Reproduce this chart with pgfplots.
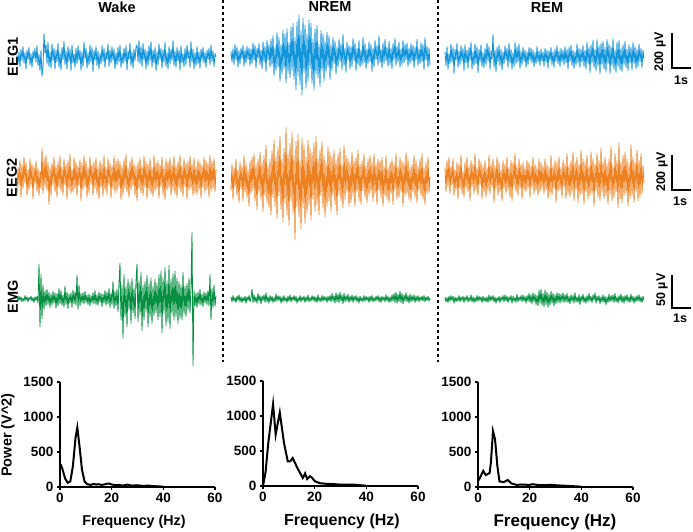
\documentclass[border=0pt]{standalone}
\usepackage{pgfplots}
\pgfplotsset{compat=1.18}
\usepackage{fontspec}
\setmainfont{Liberation Sans}
\definecolor{eegblue}{RGB}{20,150,220}
\definecolor{eegorange}{RGB}{238,130,35}
\definecolor{emggreen}{RGB}{5,145,65}
\newcommand{\trace}[5]{%
\begin{axis}[at={(#1pt,#2pt)}, anchor=west, scale only axis, width=200pt, height=140pt,
  xmin=0, xmax=10, ymin=-#3, ymax=#3, hide axis, clip=false]
\addplot[#4, line width=0.85pt, line join=round, mark=none] table[x expr=\coordindex*0.05, y index=0, header=false, row sep=\\] {#5};
\end{axis}}
\pgfplotsset{spec/.style={scale only axis, width=155pt, height=105pt, anchor=south west,
  xmin=0, xmax=60, ymin=0, ymax=1500, axis lines*=left, enlargelimits=false,
  xtick={0,20,40,60}, ytick={0,500,1000,1500}, tick align=outside,
  axis line style={line width=1.4pt, black}, major tick style={line width=1.2pt, black},
  major tick length=3pt, clip=false,
  /pgf/number format/1000 sep={}, /pgf/number format/assume math mode=true,
  ticklabel style={font=\fontsize{13.5}{15}\selectfont\bfseries}}}
\begin{document}
\begin{tikzpicture}
\path[use as bounding box] (0pt,0pt) rectangle (693pt,532pt);
% ---- EEG1 ----
\trace{17}{475}{400}{eegblue}{10\\ -40\\ 30\\ -55\\ 45\\ -20\\ 60\\ -35\\ 25\\ -70\\ 40\\ -15\\ 55\\ -45\\ 20\\ -60\\ 35\\ -10\\ 50\\ -30\\
65\\ -50\\ 15\\ -80\\ 40\\ -110\\ -60\\ 135\\ 20\\ 70\\ -40\\ 85\\ -55\\ 30\\ -65\\ 75\\ -20\\ 50\\ -70\\ 40\\
-30\\ 80\\ -60\\ 25\\ -75\\ 55\\ -15\\ 90\\ -45\\ 35\\ -70\\ 60\\ -25\\ 45\\ -80\\ 70\\ -35\\ 20\\ -60\\ 50\\
-40\\ 65\\ -20\\ 40\\ -75\\ 30\\ -55\\ 85\\ -10\\ 50\\ -65\\ 25\\ -45\\ 70\\ -30\\ 55\\ -85\\ 40\\ -20\\ 60\\
-50\\ 35\\ -70\\ 20\\ -40\\ 65\\ -25\\ 50\\ -60\\ 30\\ -15\\ 75\\ -55\\ 40\\ -35\\ 60\\ -20\\ 45\\ -70\\ 25\\
-45\\ 55\\ -30\\ 70\\ -60\\ 20\\ -40\\ 50\\ -25\\ 65\\ -75\\ 35\\ -15\\ 80\\ -50\\ 30\\ -65\\ 45\\ -20\\ 55\\
70\\ -30\\ 95\\ -40\\ 60\\ -55\\ 80\\ -20\\ 45\\ -70\\ 35\\ -50\\ 65\\ -25\\ 90\\ -60\\ 40\\ -35\\ 55\\ -80\\
30\\ -45\\ 75\\ -15\\ 50\\ -65\\ 40\\ -30\\ 85\\ -55\\ 25\\ -70\\ 60\\ -40\\ 45\\ -20\\ 95\\ -50\\ 35\\ -60\\
55\\ -25\\ 40\\ -75\\ 65\\ -35\\ 20\\ -55\\ 50\\ -45\\ 70\\ -10\\ 35\\ -60\\ 90\\ -30\\ 45\\ -70\\ 25\\ -50\\
60\\ -40\\ 30\\ -65\\ 45\\ -20\\ 55\\ -35\\ 25\\ -60\\ 40\\ -15\\ 50\\ -45\\ 70\\ -25\\ 35\\ -55\\ 20\\ 0\\}
\trace{231}{477}{400}{eegblue}{20\\ -40\\ 35\\ -55\\ 60\\ -30\\ 45\\ -70\\ 25\\ -50\\ 40\\ -20\\ 55\\ -65\\ 30\\ -45\\ 50\\ -25\\ 40\\ -60\\
35\\ -50\\ 70\\ -30\\ 55\\ -75\\ 40\\ -20\\ 65\\ -55\\ 30\\ -80\\ 75\\ -40\\ 50\\ -95\\ 85\\ -30\\ 60\\ -70\\
90\\ -60\\ 110\\ -120\\ 45\\ -90\\ 130\\ -70\\ 100\\ -150\\ 60\\ -110\\ 140\\ -80\\ 120\\ -160\\ 150\\ -100\\ 70\\ -130\\
160\\ -90\\ 180\\ -140\\ 100\\ -200\\ 190\\ -120\\ 230\\ -170\\ 140\\ -230\\ 210\\ -100\\ 170\\ -190\\ 120\\ -150\\ 200\\ -80\\
180\\ -160\\ 90\\ -200\\ 150\\ -110\\ 170\\ -130\\ 60\\ -180\\ 140\\ -90\\ 120\\ -150\\ 80\\ -100\\ 130\\ -70\\ 110\\ -140\\
60\\ -90\\ 100\\ -50\\ 80\\ -110\\ 45\\ -70\\ 90\\ -40\\ 65\\ -85\\ 120\\ -60\\ 40\\ -100\\ 75\\ -30\\ 55\\ -80\\
50\\ -65\\ 95\\ -35\\ 70\\ -90\\ 40\\ -55\\ 85\\ -70\\ 30\\ -60\\ 100\\ -45\\ 65\\ -80\\ 35\\ -50\\ 75\\ -40\\
60\\ -95\\ 40\\ -70\\ 85\\ -30\\ 55\\ -60\\ 110\\ -45\\ 35\\ -75\\ 70\\ -50\\ 90\\ -35\\ 45\\ -65\\ 80\\ -55\\
40\\ -80\\ 65\\ -30\\ 95\\ -60\\ 50\\ -40\\ 75\\ -70\\ 35\\ -55\\ 85\\ -45\\ 60\\ -30\\ 70\\ -65\\ 40\\ -50\\
65\\ -35\\ 55\\ -75\\ 45\\ -30\\ 90\\ -60\\ 35\\ -50\\ 70\\ -40\\ 60\\ -85\\ 100\\ -30\\ 50\\ -70\\ 40\\ -60\\}
\trace{445}{475}{400}{eegblue}{30\\ -50\\ 60\\ -70\\ 20\\ -40\\ 75\\ -30\\ 55\\ -95\\ 45\\ -20\\ 80\\ -60\\ 35\\ -45\\ 65\\ -25\\ 50\\ -80\\
70\\ -35\\ 40\\ -65\\ 55\\ -20\\ 85\\ -70\\ 30\\ -50\\ 75\\ -40\\ 60\\ -90\\ 45\\ -30\\ 70\\ -55\\ 25\\ -60\\
50\\ -45\\ 80\\ -25\\ 60\\ -70\\ 35\\ -15\\ 130\\ -60\\ 40\\ -85\\ 55\\ -30\\ 70\\ -50\\ 45\\ -75\\ 30\\ -40\\
65\\ -20\\ 50\\ -60\\ 80\\ -35\\ 45\\ -70\\ 25\\ -55\\ 85\\ -40\\ 60\\ -30\\ 75\\ -65\\ 35\\ -45\\ 55\\ -25\\
40\\ -60\\ 30\\ -45\\ 55\\ -20\\ 50\\ -35\\ 40\\ -55\\ 25\\ -40\\ 60\\ -30\\ 35\\ -50\\ 45\\ -25\\ 30\\ -55\\
50\\ -30\\ 40\\ -65\\ 35\\ -20\\ 55\\ -45\\ 30\\ -60\\ 45\\ -25\\ 65\\ -40\\ 35\\ -55\\ 50\\ -30\\ 40\\ -45\\
60\\ -35\\ 45\\ -70\\ 55\\ -25\\ 70\\ -50\\ 40\\ -65\\ 30\\ -45\\ 75\\ -35\\ 50\\ -60\\ 45\\ -30\\ 65\\ -55\\
40\\ -70\\ 85\\ -40\\ 55\\ -90\\ 70\\ -35\\ 95\\ -60\\ 45\\ -80\\ 100\\ -50\\ 65\\ -95\\ 80\\ -45\\ 90\\ -70\\
55\\ -85\\ 100\\ -40\\ 75\\ -95\\ 60\\ -50\\ 105\\ -70\\ 40\\ -90\\ 85\\ -55\\ 95\\ -75\\ 50\\ -85\\ 70\\ -45\\
90\\ -60\\ 45\\ -80\\ 70\\ -35\\ 55\\ -75\\ 85\\ -40\\ 60\\ -70\\ 45\\ -55\\ 75\\ -30\\ 50\\ -60\\ 40\\ -10\\}
% ---- EEG2 ----
\trace{17}{354}{400}{eegorange}{-90\\ 60\\ -40\\ 100\\ -110\\ 75\\ -60\\ 120\\ -30\\ 90\\ -100\\ 50\\ -70\\ 110\\ -45\\ 80\\ -120\\ 65\\ -35\\ 95\\
-80\\ 55\\ -100\\ 40\\ -60\\ 170\\ -90\\ 110\\ -50\\ 130\\ -70\\ 90\\ -150\\ 60\\ -100\\ 85\\ -40\\ 120\\ -80\\ 70\\
-110\\ 95\\ -55\\ 125\\ -75\\ 60\\ -95\\ 110\\ -40\\ 80\\ -120\\ 100\\ -65\\ 135\\ -90\\ 50\\ -80\\ 115\\ -60\\ 90\\
-100\\ 70\\ -45\\ 105\\ -130\\ 85\\ -70\\ 125\\ -50\\ 95\\ -110\\ 60\\ -85\\ 120\\ -35\\ 75\\ -100\\ 90\\ -60\\ 115\\
-90\\ 65\\ -120\\ 100\\ -55\\ 80\\ -105\\ 130\\ -70\\ 60\\ -95\\ 110\\ -40\\ 85\\ -115\\ 70\\ -60\\ 125\\ -85\\ 95\\
-75\\ 110\\ -50\\ 90\\ -125\\ 70\\ -95\\ 105\\ -60\\ 135\\ -80\\ 55\\ -110\\ 95\\ -70\\ 120\\ -45\\ 80\\ -100\\ 65\\
-130\\ 90\\ -60\\ 115\\ -85\\ 70\\ -100\\ 125\\ -55\\ 95\\ -120\\ 80\\ -70\\ 110\\ -90\\ 60\\ -105\\ 130\\ -75\\ 85\\
-60\\ 100\\ -115\\ 75\\ -50\\ 120\\ -95\\ 65\\ -125\\ 105\\ -70\\ 90\\ -55\\ 115\\ -100\\ 80\\ -65\\ 125\\ -90\\ 70\\
-110\\ 95\\ -60\\ 130\\ -80\\ 70\\ -105\\ 110\\ -50\\ 85\\ -120\\ 95\\ -70\\ 125\\ -60\\ 80\\ -100\\ 115\\ -85\\ 65\\
-95\\ 105\\ -70\\ 90\\ -115\\ 75\\ -55\\ 120\\ -85\\ 100\\ -65\\ 85\\ -110\\ 130\\ -75\\ 95\\ -60\\ 110\\ -80\\ 50\\}
\trace{231}{352}{400}{eegorange}{-60\\ 90\\ -110\\ 70\\ -40\\ 120\\ -90\\ 60\\ -130\\ 100\\ -50\\ 80\\ -120\\ 140\\ -70\\ 95\\ -100\\ 60\\ -150\\ 110\\
-80\\ 130\\ -60\\ 150\\ -120\\ 90\\ -170\\ 120\\ -70\\ 160\\ -110\\ 100\\ -180\\ 140\\ -90\\ 200\\ -130\\ 80\\ -160\\ 120\\
-200\\ 170\\ -100\\ 230\\ -150\\ 130\\ -220\\ 190\\ -90\\ 250\\ -170\\ 120\\ -240\\ 180\\ -130\\ 300\\ -200\\ 150\\ -260\\ 210\\
-120\\ 270\\ -190\\ 140\\ -340\\ 220\\ -150\\ 260\\ -210\\ 110\\ -280\\ 240\\ -160\\ 200\\ -250\\ 130\\ -190\\ 230\\ -140\\ 180\\
-230\\ 160\\ -110\\ 210\\ -180\\ 250\\ -140\\ 120\\ -200\\ 170\\ -90\\ 220\\ -160\\ 140\\ -210\\ 100\\ -150\\ 190\\ -120\\ 160\\
-180\\ 130\\ -90\\ 170\\ -140\\ 110\\ -200\\ 150\\ -80\\ 180\\ -120\\ 90\\ -160\\ 200\\ -110\\ 140\\ -70\\ 120\\ -150\\ 100\\
-130\\ 160\\ -90\\ 110\\ -150\\ 130\\ -70\\ 170\\ -120\\ 90\\ -140\\ 110\\ -60\\ 150\\ -100\\ 80\\ -130\\ 120\\ -90\\ 140\\
-70\\ 100\\ -120\\ 150\\ -80\\ 90\\ -140\\ 120\\ -60\\ 110\\ -100\\ 130\\ -150\\ 80\\ -90\\ 140\\ -110\\ 70\\ -130\\ 100\\
-80\\ 120\\ -140\\ 90\\ -60\\ 150\\ -110\\ 80\\ -100\\ 130\\ -70\\ 110\\ -150\\ 100\\ -90\\ 160\\ -80\\ 120\\ -110\\ 70\\
-120\\ 90\\ -70\\ 140\\ -100\\ 110\\ -130\\ 80\\ -60\\ 120\\ -90\\ 150\\ -110\\ 70\\ -140\\ 100\\ -80\\ 130\\ -70\\ 20\\}
\trace{445}{354}{400}{eegorange}{60\\ -80\\ 100\\ -50\\ 120\\ -90\\ 70\\ -40\\ 110\\ -100\\ 50\\ -70\\ 90\\ -120\\ 80\\ -60\\ 130\\ -90\\ 40\\ -110\\
90\\ -60\\ 120\\ -80\\ 70\\ -130\\ 100\\ -50\\ 80\\ -90\\ 140\\ -70\\ 60\\ -100\\ 110\\ -40\\ 90\\ -120\\ 70\\ -80\\
100\\ -110\\ 60\\ -70\\ 130\\ -90\\ 80\\ -50\\ 110\\ -140\\ 70\\ -60\\ 120\\ -100\\ 90\\ -80\\ 50\\ -130\\ 100\\ -60\\
80\\ -90\\ 120\\ -70\\ 60\\ -110\\ 100\\ -130\\ 90\\ -50\\ 140\\ -80\\ 70\\ -100\\ 110\\ -60\\ 80\\ -120\\ 90\\ -70\\
60\\ -80\\ 100\\ -60\\ 90\\ -110\\ 70\\ -50\\ 120\\ -90\\ 80\\ -70\\ 60\\ -100\\ 110\\ -80\\ 90\\ -60\\ 70\\ -90\\
110\\ -70\\ 80\\ -120\\ 60\\ -90\\ 130\\ -100\\ 70\\ -60\\ 100\\ -140\\ 90\\ -80\\ 120\\ -70\\ 60\\ -110\\ 100\\ -50\\
80\\ -120\\ 140\\ -90\\ 70\\ -110\\ 100\\ -80\\ 150\\ -130\\ 90\\ -70\\ 120\\ -140\\ 80\\ -100\\ 160\\ -90\\ 110\\ -150\\
90\\ -80\\ 130\\ -120\\ 70\\ -100\\ 150\\ -90\\ 110\\ -160\\ 80\\ -70\\ 140\\ -110\\ 100\\ -130\\ 170\\ -80\\ 90\\ -120\\
120\\ -100\\ 80\\ -150\\ 110\\ -90\\ 180\\ -130\\ 70\\ -110\\ 140\\ -80\\ 100\\ -170\\ 200\\ -120\\ 90\\ -140\\ 130\\ -100\\
150\\ -90\\ 110\\ -160\\ 80\\ -120\\ 190\\ -100\\ 120\\ -140\\ 90\\ -80\\ 160\\ -130\\ 100\\ -110\\ 140\\ -90\\ 70\\ -30\\}
% ---- EMG ----
\trace{17}{233}{100}{emggreen}{2\\ -3\\ 4\\ -2\\ 3\\ -4\\ 1\\ -3\\ 5\\ -2\\ 3\\ -4\\ 2\\ -1\\ 4\\ -3\\ 2\\ -5\\ 3\\ -2\\
4\\ -6\\ 50\\ -40\\ 35\\ -28\\ 20\\ -15\\ 12\\ -10\\ 14\\ -8\\ 10\\ -12\\ 7\\ -9\\ 11\\ -6\\ 9\\ -13\\
8\\ -10\\ 15\\ -7\\ 12\\ -9\\ 6\\ -11\\ 18\\ -8\\ 10\\ -14\\ 7\\ -6\\ 9\\ -12\\ 13\\ -7\\ 10\\ -9\\
34\\ -15\\ 20\\ -10\\ 8\\ -6\\ 9\\ -7\\ 11\\ -5\\ 6\\ -8\\ 7\\ -10\\ 5\\ -6\\ 9\\ -7\\ 12\\ -8\\
6\\ -9\\ 10\\ -5\\ 8\\ -11\\ 7\\ -6\\ 12\\ -9\\ 10\\ -7\\ 15\\ -12\\ 9\\ -8\\ 25\\ -14\\ 11\\ -10\\
14\\ -18\\ 22\\ 51\\ -30\\ 20\\ -56\\ 35\\ -25\\ 18\\ -40\\ 28\\ -15\\ 22\\ -35\\ 30\\ -20\\ 16\\ -28\\ 24\\
50\\ -32\\ 26\\ -22\\ 38\\ -45\\ 20\\ -30\\ 25\\ -18\\ 34\\ -40\\ 22\\ -26\\ 30\\ -35\\ 18\\ -24\\ 28\\ -20\\
22\\ -30\\ 35\\ -25\\ 40\\ -48\\ 30\\ -20\\ 45\\ -38\\ 26\\ -32\\ 48\\ -42\\ 28\\ -22\\ 36\\ -30\\ 40\\ -25\\
30\\ -35\\ 25\\ -28\\ 20\\ -30\\ 38\\ -22\\ 18\\ -25\\ 22\\ -16\\ 30\\ -20\\ 15\\ 95\\ -95\\ 12\\ -10\\ 8\\
-12\\ 10\\ -8\\ 14\\ -9\\ 7\\ -11\\ 10\\ -6\\ 9\\ -8\\ 12\\ -10\\ 35\\ -30\\ 15\\ -12\\ 20\\ -10\\ 5\\}
\trace{231}{233}{100}{emggreen}{3\\ -4\\ 5\\ -3\\ 2\\ -5\\ 4\\ -2\\ 6\\ -4\\ 3\\ -5\\ 2\\ -3\\ 4\\ -6\\ 3\\ -2\\ 5\\ -4\\
2\\ 14\\ -5\\ 6\\ -4\\ 3\\ -6\\ 8\\ -3\\ 5\\ -7\\ 4\\ -2\\ 6\\ -5\\ 9\\ -4\\ 3\\ -6\\ 5\\
-3\\ 4\\ -5\\ 2\\ -4\\ 7\\ -3\\ 5\\ -2\\ 4\\ -6\\ 3\\ -4\\ 5\\ -3\\ 2\\ -5\\ 4\\ -3\\ 6\\
-4\\ 3\\ -2\\ 5\\ -3\\ 4\\ -6\\ 2\\ -3\\ 5\\ -4\\ 3\\ -2\\ 4\\ -5\\ 3\\ -3\\ 6\\ -4\\ 2\\
-3\\ 5\\ -2\\ 4\\ -4\\ 3\\ -5\\ 6\\ -3\\ 2\\ -4\\ 5\\ -3\\ 4\\ -2\\ 3\\ -5\\ 4\\ -3\\ 5\\
-4\\ 8\\ -3\\ 5\\ -6\\ 9\\ -4\\ 7\\ -5\\ 10\\ -3\\ 6\\ -7\\ 8\\ -4\\ 5\\ -3\\ 7\\ -5\\ 4\\
-3\\ 6\\ -5\\ 4\\ -2\\ 5\\ -4\\ 3\\ -6\\ 4\\ -3\\ 2\\ -4\\ 5\\ -3\\ 4\\ -2\\ 3\\ -5\\ 4\\
-3\\ 5\\ -4\\ 2\\ -3\\ 4\\ -2\\ 5\\ -4\\ 3\\ -5\\ 4\\ -2\\ 3\\ -4\\ 6\\ -3\\ 4\\ -5\\ 3\\
-4\\ 6\\ -3\\ 8\\ -5\\ 10\\ -6\\ 7\\ -4\\ 11\\ -5\\ 8\\ -7\\ 6\\ -3\\ 9\\ -4\\ 5\\ -6\\ 7\\
-4\\ 5\\ -3\\ 6\\ -5\\ 4\\ -3\\ 5\\ -4\\ 3\\ -2\\ 4\\ -3\\ 5\\ -4\\ 3\\ -2\\ 4\\ -3\\ 2\\}
\trace{445}{233}{100}{emggreen}{3\\ -4\\ 2\\ -5\\ 4\\ -3\\ 5\\ -2\\ 4\\ -6\\ 3\\ -4\\ 2\\ -3\\ 5\\ -4\\ 3\\ -2\\ 4\\ -5\\
3\\ -2\\ 5\\ -4\\ 2\\ -3\\ 6\\ -4\\ 3\\ -5\\ 2\\ -4\\ 5\\ -3\\ 4\\ -2\\ 3\\ -5\\ 4\\ -3\\
2\\ -4\\ 3\\ -5\\ 6\\ -3\\ 4\\ -2\\ 5\\ -4\\ 3\\ -6\\ 2\\ -3\\ 4\\ -5\\ 3\\ -2\\ 5\\ -4\\
6\\ -3\\ 4\\ -5\\ 3\\ -2\\ 5\\ -6\\ 4\\ -3\\ 2\\ -5\\ 7\\ -4\\ 3\\ -2\\ 5\\ -4\\ 6\\ -3\\
4\\ -6\\ 5\\ -3\\ 8\\ -5\\ 6\\ -7\\ 9\\ -4\\ 7\\ -8\\ 5\\ -10\\ 12\\ -6\\ 14\\ -9\\ 8\\ -11\\
13\\ -8\\ 10\\ -12\\ 7\\ -9\\ 11\\ -6\\ 8\\ -10\\ 6\\ -7\\ 9\\ -5\\ 8\\ -6\\ 7\\ -4\\ 9\\ -5\\
6\\ -4\\ 8\\ -5\\ 4\\ -7\\ 6\\ -3\\ 5\\ -6\\ 9\\ -4\\ 3\\ -5\\ 6\\ -8\\ 4\\ -3\\ 7\\ -5\\
3\\ -6\\ 5\\ -4\\ 8\\ -3\\ 4\\ -5\\ 6\\ -2\\ 9\\ -6\\ 4\\ -3\\ 5\\ -7\\ 3\\ -4\\ 6\\ -5\\
4\\ -8\\ 3\\ -5\\ 7\\ -4\\ 5\\ -3\\ 6\\ -5\\ 8\\ -4\\ 3\\ -6\\ 5\\ -3\\ 7\\ -5\\ 4\\ -6\\
5\\ -3\\ 6\\ -4\\ 3\\ -5\\ 7\\ -3\\ 4\\ -6\\ 3\\ -4\\ 5\\ -3\\ 6\\ -4\\ 3\\ -5\\ 4\\ -2\\}
% ---- spectra ----
\begin{axis}[spec, at={(60pt,45pt)}]
\addplot[black, line width=2pt, mark=none] coordinates {(0,270)(0.5,300)(1,250)(2,120)(3,60)(4,80)(5,300)(6,700)(6.7,850)(7.5,600)(8.5,250)(9.5,80)(10.5,40)(12,30)(13,45)(14,35)(15,40)(16,30)(17,35)(18,45)(19,50)(20,35)(21,30)(22,25)(23,30)(24,20)(25,25)(26,35)(27,25)(28,20)(30,25)(32,15)(34,20)(36,12)(38,10)(40,5)};
\end{axis}
\begin{axis}[spec, at={(263pt,46pt)}]
\addplot[black, line width=2pt, mark=none] coordinates {(0,0)(1,200)(2,600)(3,900)(3.9,1170)(4.9,735)(6.5,1050)(8.1,620)(9.6,350)(10.5,350)(11.5,400)(13.4,250)(15.4,115)(16.3,180)(17.1,100)(18.2,140)(19.2,110)(20,70)(22,40)(25,30)(28,25)(30,20)(33,18)(35,20)(38,10)(40,5)};
\end{axis}
\begin{axis}[spec, at={(478pt,45pt)}]
\addplot[black, line width=2pt, mark=none] coordinates {(0,80)(1,150)(2,230)(3,170)(4.5,200)(5,350)(5.8,800)(6.6,680)(7.5,300)(8.3,80)(10,70)(11.5,100)(13,50)(15,30)(17,35)(20,30)(21,40)(24,25)(28,30)(30,25)(35,15)(40,5)};
\end{axis}
% ---- dashed separators ----
\draw[dash pattern=on 3.5pt off 2.5pt, line width=2pt] (223pt,532pt) -- (223pt,170pt);
\draw[dash pattern=on 3.5pt off 2.5pt, line width=2pt] (438pt,532pt) -- (438pt,170pt);
% ---- scale bars ----
\draw[line width=1.6pt] (672pt,499pt) -- (672pt,464pt) -- (691pt,464pt);
\draw[line width=1.6pt] (672pt,377pt) -- (672pt,342pt) -- (691pt,342pt);
\draw[line width=1.6pt] (672pt,257pt) -- (672pt,224pt) -- (691pt,224pt);
\begin{scope}[every node/.style={font=\fontsize{12.5}{14}\selectfont\bfseries, inner sep=0pt}]
\node[rotate=90] at (660pt,480pt) {200 µV};
\node[rotate=90] at (662pt,360pt) {200 µV};
\node[rotate=90] at (662pt,242pt) {50 µV};
\node at (681pt,452pt) {1s};
\node at (680pt,331pt) {1s};
\node at (680pt,214pt) {1s};
\end{scope}
% ---- titles and row labels ----
\begin{scope}[every node/.style={font=\fontsize{14.5}{16}\selectfont\bfseries, inner sep=0pt}]
\node at (117pt,525pt) {Wake};
\node at (330pt,525pt) {NREM};
\node at (547pt,524pt) {REM};
\node[rotate=90] at (13pt,475pt) {EEG1};
\node[rotate=90] at (12pt,354pt) {EEG2};
\node[rotate=90] at (13pt,235pt) {EMG};
\node[rotate=90] at (8pt,97pt) {Power (V\textasciicircum2)};
\end{scope}
\node[inner sep=0pt, font=\fontsize{14.3}{16}\selectfont\bfseries] at (134pt,10pt) {Frequency (Hz)};
\node[inner sep=0pt, font=\fontsize{16}{18}\selectfont\bfseries] at (342pt,11pt) {Frequency (Hz)};
\node[inner sep=0pt, font=\fontsize{17}{19}\selectfont\bfseries] at (555pt,10pt) {Frequency (Hz)};
\end{tikzpicture}
\end{document}
